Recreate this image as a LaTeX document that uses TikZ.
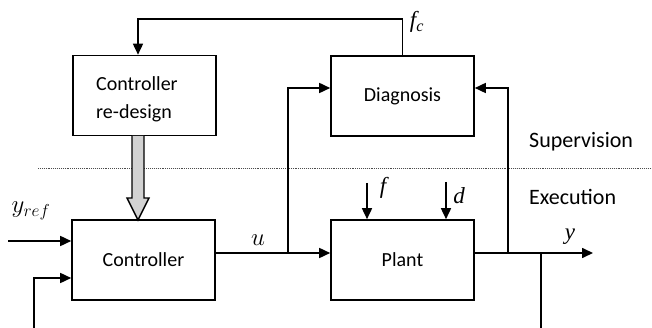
\documentclass[tikz,border=0pt]{standalone}
\usepackage{fontspec}
\setmainfont{Carlito}
\newfontfamily\tms{Liberation Serif}
\usetikzlibrary{arrows.meta}
\begin{document}
\begin{tikzpicture}[x=1pt,y=1pt,
  box/.style={draw,line width=1.6pt,minimum width=143pt,minimum height=80pt,inner sep=0pt,font=\fontsize{20}{27}\selectfont},
  conn/.style={line width=1.6pt},
  arr/.style={conn,-{Triangle[length=11pt,width=10pt]}},
  lbl/.style={font=\fontsize{22}{24}\selectfont,inner sep=0pt},
  mth/.style={font=\fontsize{24}{24}\selectfont,inner sep=0pt},
  tl/.style={font=\fontsize{23}{24}\selectfont\tms\itshape,inner sep=0pt}]
\useasboundingbox (0,0) rectangle (652,-328);
% boxes
\node[box] (crd) at (144.5,-95.5) {};
\node[font=\fontsize{20}{28}\selectfont,align=left,anchor=west,inner sep=0pt] (crdt) at (96,-99) {Controller\\re-design};
\node[box] (diag) at (402.5,-96) {Diagnosis};
\node[box] (ctrl) at (143.5,-260) {Controller};
\node[box] (plant) at (402.5,-260) {Plant};
% separator
\draw[gray!60!black,line width=0.9pt,dash pattern=on 0.9pt off 1pt] (38,-168) -- (652,-168);
\node[lbl,anchor=west] (sup) at (529,-142) {Supervision};
\node[lbl,anchor=west] (exe) at (529,-197) {Execution};
% top feedback f_c
\coordinate (crdin) at ([xshift=-6.5pt]crd.north);
\draw[arr] (diag.north) -- ++(0,36) -| (crdin);
\node[tl] (fc) at (417,-22) {f\textsubscript{c}};
% fat arrow
\fill[gray!35] (132,-136) -- (132,-198) -- (127,-198) -- (138,-220) -- (149,-198) -- (144,-198) -- (144,-136) -- cycle;
\draw[line width=1.4pt,line join=miter] (132,-136) -- (132,-198) -- (127,-198) -- (138,-220) -- (149,-198) -- (144,-198) -- (144,-136);
% controller inputs
\coordinate (yrefin) at (8,-241);
\draw[arr] (yrefin) -- (ctrl.west |- yrefin);
\node[mth] (yref) at (31,-211) {$y_{ref}$};
\coordinate (fbin) at (34,-328);
\coordinate (fbc) at (0,-278);
\draw[arr] (fbin) |- (ctrl.west |- fbc);
% u
\draw[arr] ([yshift=7pt]ctrl.east) -- ([yshift=7pt]plant.west);
\node[mth] (u) at (258,-240) {$u$};
\coordinate (j1) at (288,-253);
\draw[arr] (j1) |- ([yshift=8pt]diag.west);
% plant disturbances
\coordinate (fa) at (367,-183);
\draw[arr] (fa) -- (fa |- plant.north);
\node[tl] (f) at (383,-188) {f};
\coordinate (da) at (446,-182);
\draw[arr] (da) -- (da |- plant.north);
\node[tl] (d) at (459,-196) {d};
% output
\coordinate (yend) at (593,-253);
\draw[arr] ([yshift=7pt]plant.east) -- (yend);
\node[tl] (y) at (570,-237) {y};
\coordinate (j2) at (508,-253);
\draw[arr] (j2) |- ([yshift=8pt]diag.east);
\coordinate (j3) at (541,-253);
\coordinate (j3b) at (541,-328);
\draw[conn] (j3) -- (j3b);
\end{tikzpicture}
\end{document}
